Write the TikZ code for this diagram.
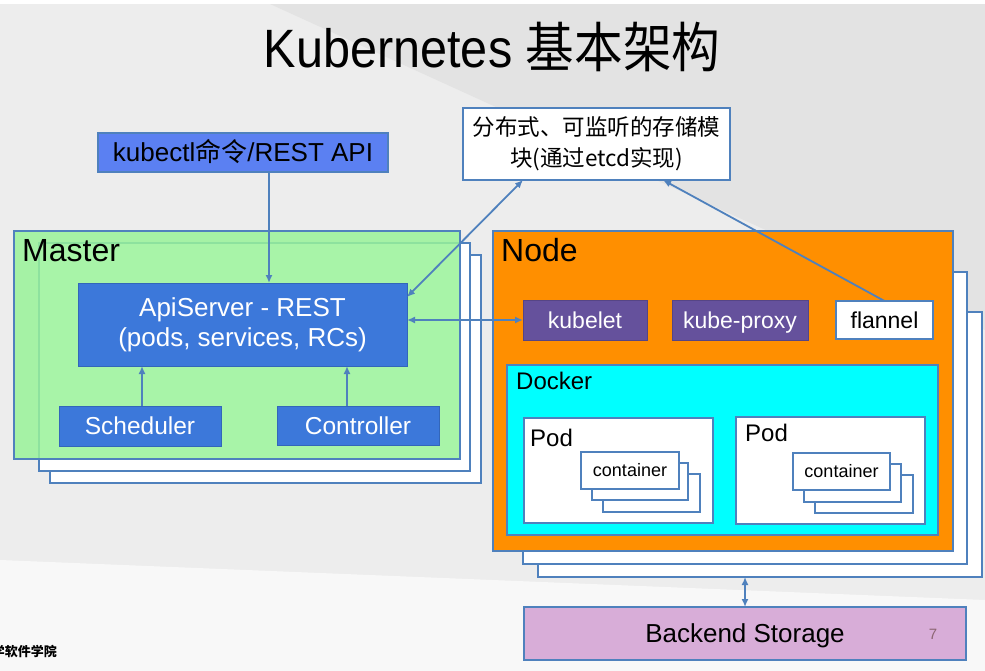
\documentclass[tikz,border=0pt]{standalone}
\usepackage{fontspec}
\setmainfont{Liberation Sans}
\newfontfamily\cjk{Noto Sans CJK SC}
\newfontfamily\titlefont[FakeStretch=0.9]{Liberation Sans}
\newfontfamily\titlecjk[FakeStretch=0.9]{Noto Sans CJK SC}
\usetikzlibrary{arrows.meta,calc}
\definecolor{bordblue}{HTML}{4F81BD}
\definecolor{cmdblue}{HTML}{5B80F2}
\definecolor{apiblue}{HTML}{3C78DA}
\definecolor{purp}{HTML}{65519C}
\definecolor{mgreen}{HTML}{99F399}
\definecolor{norange}{HTML}{FF8F00}
\definecolor{dcyan}{HTML}{00FFFF}
\definecolor{bstore}{HTML}{D8ADD8}
\definecolor{bggray}{HTML}{EDEDED}
\definecolor{bgdark}{HTML}{E3E3E3}
\tikzset{
  box/.style={draw=bordblue, line width=2.2pt, inner sep=0pt, outer sep=0pt},
  stackbox/.style={box, fill=white},
  lbl/.style={inner sep=0pt, anchor=base west, text=black},
  tx/.style={inner sep=0pt, anchor=base},
  arr/.style={draw=bordblue, line width=1.8pt, -{Latex[length=8pt,width=7pt]}},
  darr/.style={draw=bordblue, line width=1.8pt, {Latex[length=8pt,width=7pt]}-{Latex[length=8pt,width=7pt]}},
}
\newcommand{\bx}[6]{% name, x1, y1, x2, y2, style
  \node[#6, minimum width={(#4-#2)*1pt}, minimum height={(#5-#3)*1pt}] (#1) at ({(#2+#4)/2},{(#3+#5)/2}) {};}
% name, box, size, text, options : centred on the cap height
\newcommand{\ctext}[5]{%
  \node[tx, #5] (#1) at ($(#2.center)+(0,{0.36*#3})$) {\fontsize{#3}{#3}\selectfont #4};}
\begin{document}
\begin{tikzpicture}[x=1pt,y=-1pt]
\useasboundingbox (0,0) rectangle (985,671);
% background
\fill[bggray] (0,0) rectangle (985,671);
\fill[bgdark] (270,4) -- (985,4) -- (985,330) -- cycle;
\fill[white] (0,0) rectangle (985,4);
\fill[white!60!bggray] (0,560) -- (985,600) -- (985,671) -- (0,671) -- cycle;
% title
\node[anchor=base, inner sep=0pt] (title) at (492,68) {\fontsize{54}{60}\selectfont\titlefont Kubernetes \titlecjk 基本架构};
% kubectl
\bx{kubectl}{98}{133}{388}{172}{box, fill=cmdblue}
\ctext{kubectltxt}{kubectl}{26}{kubectl{\cjk 命令}/REST API}{}
% etcd
\bx{etcd}{463}{108}{730}{180}{box, fill=white}
\node[inner sep=0pt, align=center, font={\fontsize{22.5}{31}\selectfont\cjk}] (etcdtxt) at (etcd.center) {分布式、可监听的存储模\\块(通过etcd实现)};
% Master stack
\bx{mb3}{50}{255}{481}{483}{stackbox}
\bx{mb2}{39}{243}{470}{471}{stackbox}
\bx{master}{14}{231}{460}{459}{box, fill=mgreen, fill opacity=0.85}
\node[lbl] (mastertxt) at (22,261) {\fontsize{32}{36}\selectfont Master};
\bx{api}{78}{283}{407}{366}{box, draw=apiblue!85!black, line width=1pt, fill=apiblue}
\node[inner sep=0pt, align=center, text=white, font={\fontsize{26}{30}\selectfont}] (apitxt) at (api.center) {ApiServer - REST\\(pods, services, RCs)};
\bx{sched}{59}{406}{221}{446}{box, draw=apiblue!85!black, line width=1pt, fill=apiblue}
\ctext{schedtxt}{sched}{24.5}{Scheduler}{text=white}
\bx{ctrl}{277}{406}{439}{445}{box, draw=apiblue!85!black, line width=1pt, fill=apiblue}
\ctext{ctrltxt}{ctrl}{24.5}{Controller}{text=white}
% Node stack
\bx{nb3}{538}{312}{982}{577}{stackbox}
\bx{nb2}{523}{272}{967}{564}{stackbox}
\bx{node}{493}{231}{953}{551}{box, fill=norange}
\node[lbl] (nodetxt) at (501,261) {\fontsize{32}{36}\selectfont Node};
\bx{kubelet}{523}{300}{647}{340}{box, draw=purp!85!black, line width=1pt, fill=purp}
\ctext{kubelettxt}{kubelet}{23}{kubelet}{text=white}
\bx{proxy}{672}{300}{808}{340}{box, draw=purp!85!black, line width=1pt, fill=purp}
\ctext{proxytxt}{proxy}{23}{kube-proxy}{text=white}
\bx{flannel}{836}{301}{933}{339}{box, fill=white}
\ctext{flanneltxt}{flannel}{23}{flannel}{}
% Docker
\bx{docker}{507}{365}{938}{535}{box, fill=dcyan}
\node[lbl] (dockertxt) at (516,389) {\fontsize{24}{28}\selectfont Docker};
% Pods
\bx{pod1}{524}{418}{713}{523}{box, fill=white}
\node[lbl] (pod1txt) at (530,446) {\fontsize{24}{28}\selectfont Pod};
\bx{c13}{603}{474}{700}{512}{stackbox}
\bx{c12}{592}{463}{688}{500}{stackbox}
\bx{c11}{581}{452}{679}{489}{stackbox}
\ctext{c11txt}{c11}{18}{container}{}
\bx{pod2}{736}{417}{925}{524}{box, fill=white}
\node[lbl] (pod2txt) at (745,441) {\fontsize{24}{28}\selectfont Pod};
\bx{c23}{815}{475}{913}{513}{stackbox}
\bx{c22}{804}{464}{901}{502}{stackbox}
\bx{c21}{793}{453}{890}{490}{stackbox}
\ctext{c21txt}{c21}{18}{container}{}
% Backend
\bx{backend}{524}{607}{966}{660}{box, fill=bstore}
\ctext{backendtxt}{backend}{26}{Backend Storage}{}
\node[tx, text=gray!80!purple] (pgnum) at (933,639) {\fontsize{15}{18}\selectfont 7};
% footer
\node[inner sep=0pt, anchor=base east] (footer) at (57,656) {\fontsize{13}{16}\selectfont\cjk\bfseries 学软件学院};
% connectors
\coordinate (kx) at (269,0);
\coordinate (cx) at (347,0);
\coordinate (sx) at (142,0);
\draw[arr] (kubectl.south -| kx) -- (api.north -| kx);
\draw[arr] (sched.north -| sx) -- (api.south -| sx);
\draw[arr] (ctrl.north -| cx) -- (api.south -| cx);
\draw[darr] ($(api.north east)+(0,14)$) -- ($(etcd.south west)+(60,0)$);
\draw[darr] (api.east |- kubelet.west) -- (kubelet.west);
\draw[arr] (flannel.north) -- ($(etcd.south west)+(200,0)$);
\draw[darr] (nb3.south -| backend.north) -- (backend.north);
\end{tikzpicture}
\end{document}
